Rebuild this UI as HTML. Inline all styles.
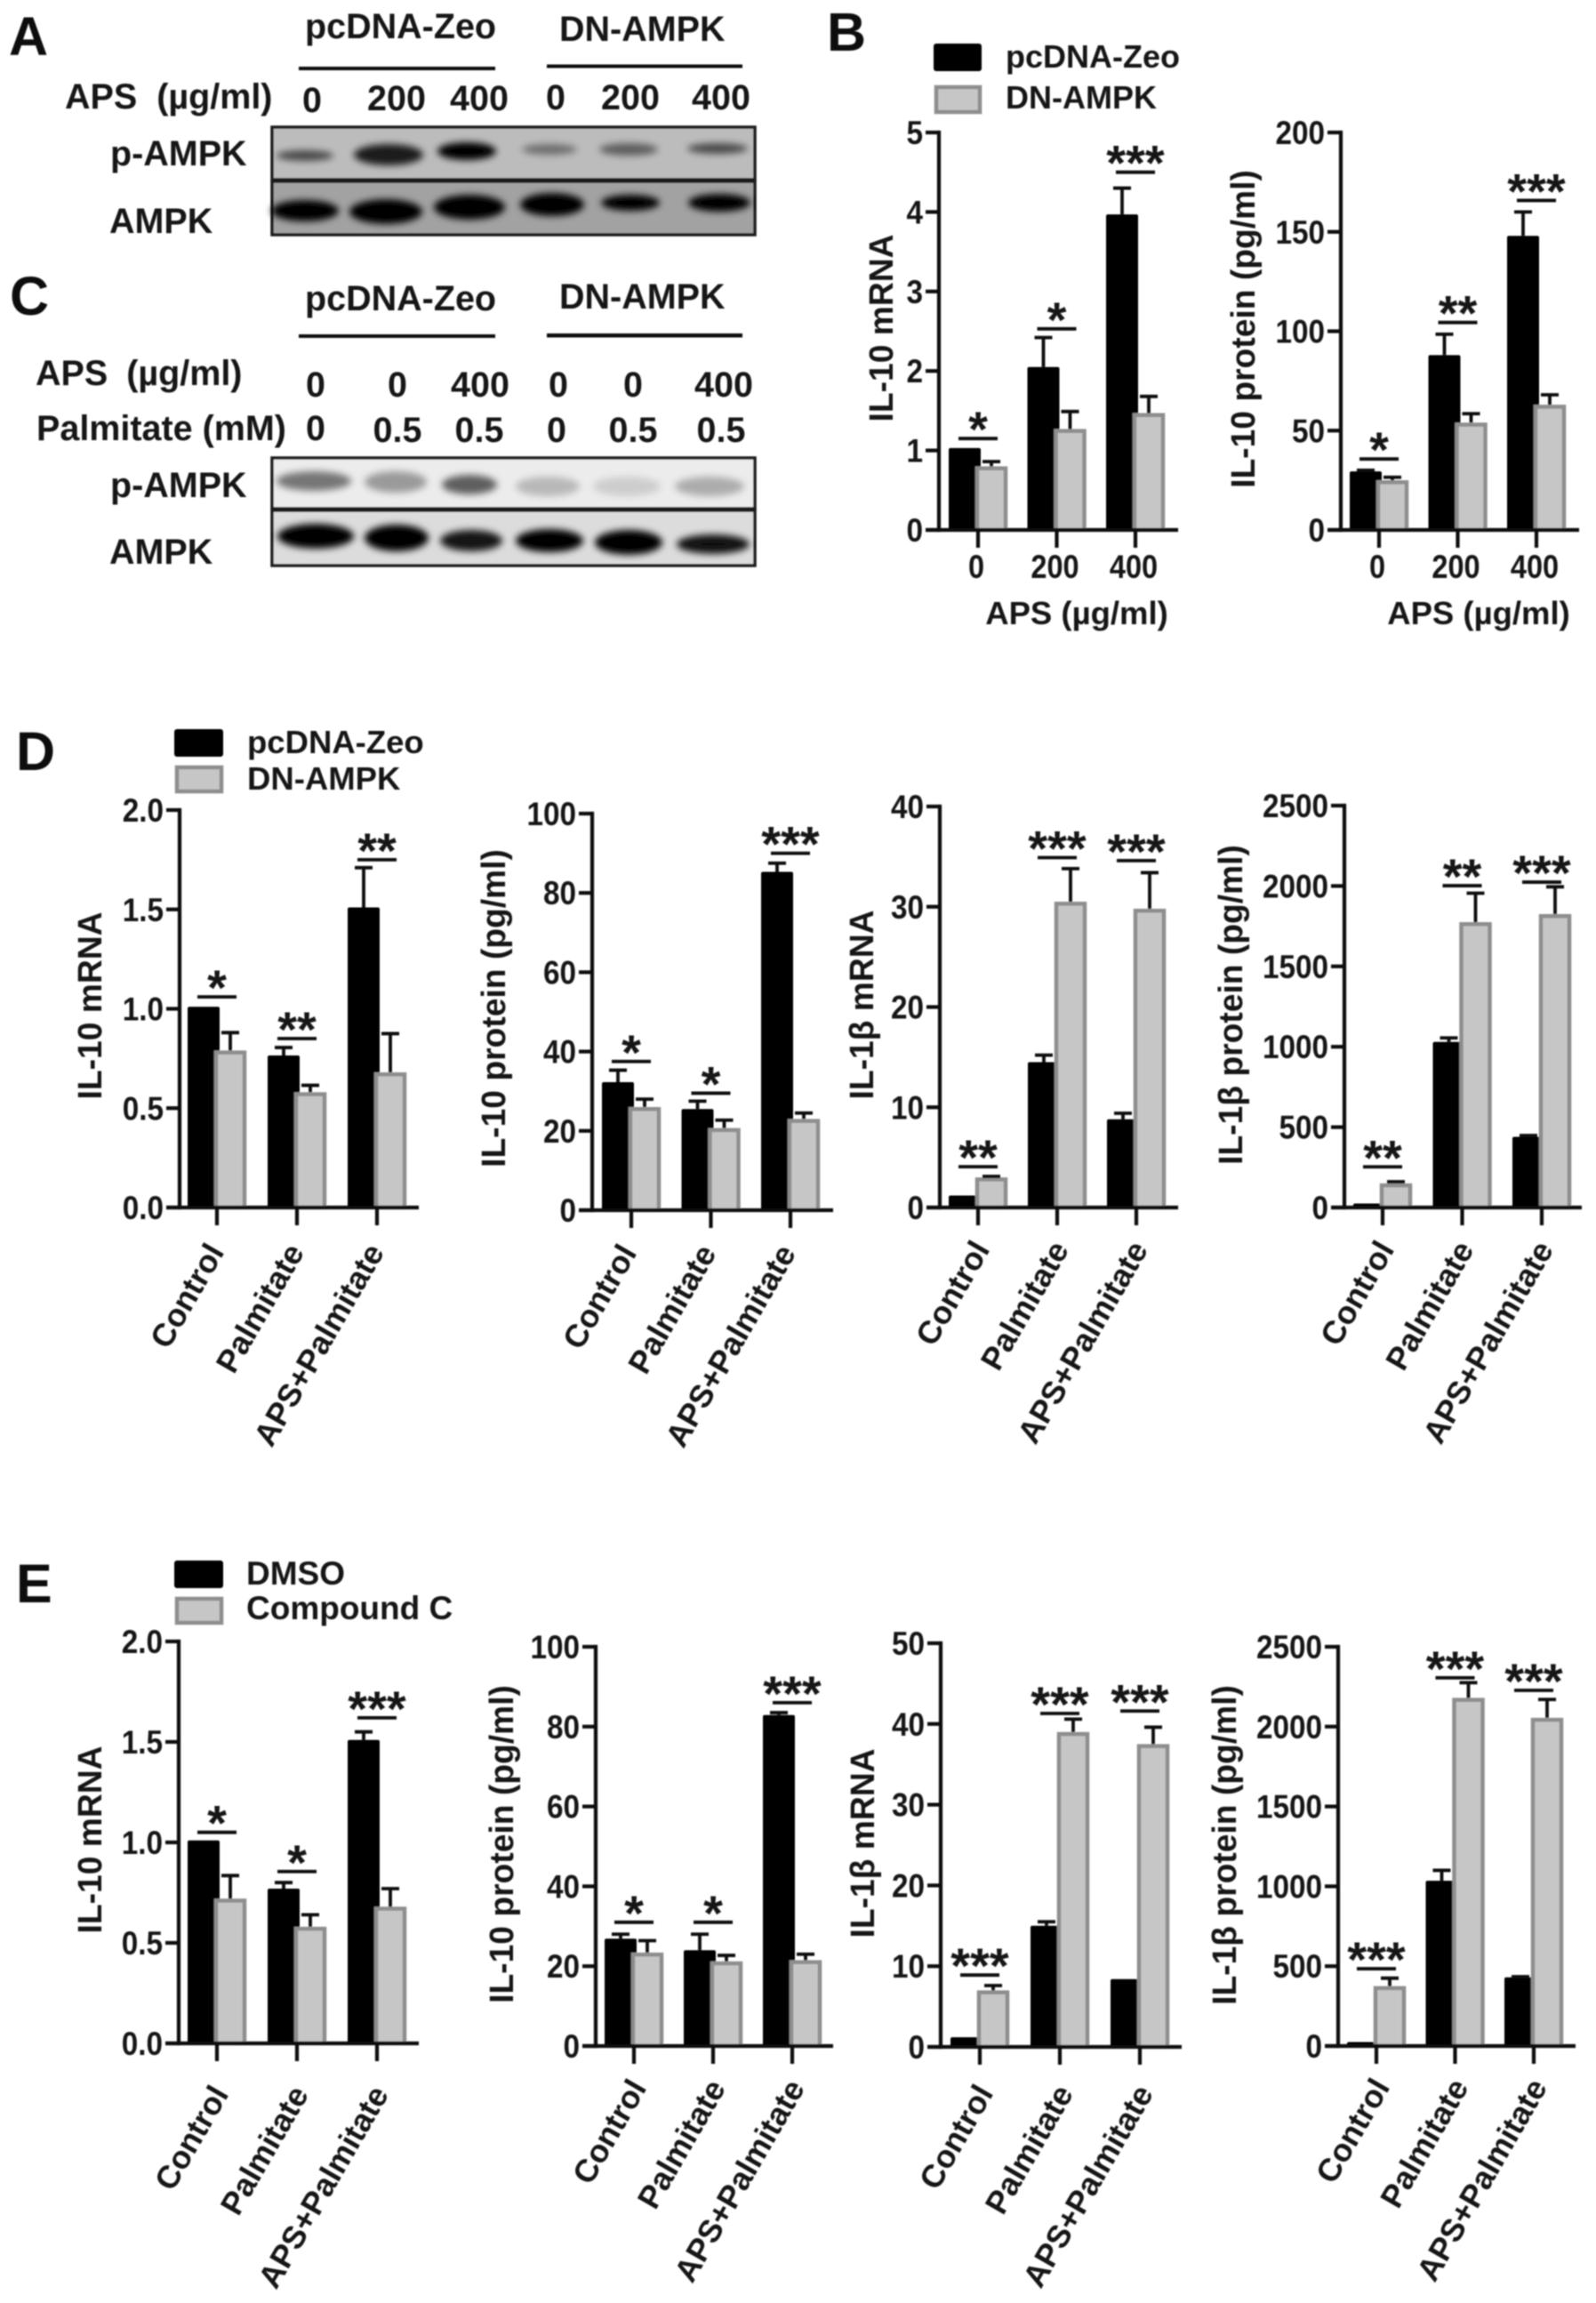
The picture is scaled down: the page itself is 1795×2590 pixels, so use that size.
<!DOCTYPE html>
<html lang="en">
<head>
<meta charset="utf-8">
<title>AMPK western blots and IL-10 / IL-1β bar charts</title>
<style>
html,body{margin:0;padding:0;background:#fff;}
svg{display:block;}
text{font-family:"Liberation Sans",sans-serif;font-weight:bold;fill:#151515;}
.bt{font-size:36px;}
.bb{font-size:39.5px;}
.pl{font-size:61px;fill:#0c0c0c;}
</style>
</head>
<body>
<svg id="figure" xmlns="http://www.w3.org/2000/svg" width="1795" height="2590" viewBox="0 0 1795 2590">
<defs>
<filter id="soft" x="-10%" y="-10%" width="120%" height="120%"><feGaussianBlur stdDeviation="0.7"/></filter>
<filter id="band" x="-40%" y="-80%" width="180%" height="260%"><feGaussianBlur stdDeviation="4"/></filter>
</defs>
<g id="root" filter="url(#soft)">
<!-- panel letters -->
<text class="pl" x="10" y="62">A</text>
<text class="pl" x="930" y="57">B</text>
<text class="pl" x="11" y="354">C</text>
<text class="pl" x="18" y="866">D</text>
<text class="pl" x="18" y="1802">E</text>

<!-- panel A -->
<g>
<text class="bb" x="343" y="43">pcDNA-Zeo</text>
<text class="bb" x="629" y="46">DN-AMPK</text>
<rect x="336" y="75" width="221" height="4" fill="#111"/>
<rect x="615" y="72.5" width="220" height="4" fill="#111"/>
<text class="bb" x="73" y="122" word-spacing="11">APS (µg/ml)</text>
<g class="bb" text-anchor="middle">
<text x="351" y="126">0</text>
<text x="446" y="124">200</text>
<text x="539" y="124">400</text>
<text x="625" y="123">0</text>
<text x="709" y="123">200</text>
<text x="811" y="123">400</text>
</g>
<text class="bb" x="124" y="186">p-AMPK</text>
<text class="bb" x="123" y="262">AMPK</text>
<rect x="306" y="143" width="543" height="59" fill="#bcbcbc" stroke="#1a1a1a" stroke-width="3.5"/>
<rect x="306" y="204" width="543" height="60" fill="#a2a2a2" stroke="#1a1a1a" stroke-width="3.5"/>
<g filter="url(#band)" fill="#000">
<ellipse cx="343" cy="175" rx="32" ry="6" opacity=".62"/>
<ellipse cx="437" cy="174" rx="39" ry="12" opacity=".85"/>
<ellipse cx="525" cy="170" rx="33" ry="10" opacity="1"/>
<ellipse cx="618" cy="168" rx="31" ry="6" opacity=".42"/>
<ellipse cx="707" cy="168" rx="33" ry="7" opacity=".5"/>
<ellipse cx="807" cy="167" rx="34" ry="6" opacity=".62"/>
</g>
<g filter="url(#band)" fill="#000">
<ellipse cx="343" cy="237" rx="38" ry="12"/>
<ellipse cx="434" cy="238" rx="41" ry="14"/>
<ellipse cx="528" cy="233" rx="40" ry="14"/>
<ellipse cx="621" cy="230" rx="36" ry="13"/>
<ellipse cx="709" cy="228" rx="33" ry="9"/>
<ellipse cx="809" cy="228" rx="35" ry="10"/>
</g>
</g>

<!-- panel C -->
<g>
<text class="bb" x="343" y="349">pcDNA-Zeo</text>
<text class="bb" x="629" y="347">DN-AMPK</text>
<rect x="336" y="376" width="221" height="4" fill="#111"/>
<rect x="615" y="375" width="220" height="4.5" fill="#111"/>
<text class="bb" x="40" y="433" word-spacing="10">APS (µg/ml)</text>
<g class="bb" text-anchor="middle">
<text x="355" y="446">0</text>
<text x="447" y="446">0</text>
<text x="540" y="446">400</text>
<text x="628" y="446">0</text>
<text x="712" y="446">0</text>
<text x="814" y="446">400</text>
</g>
<text class="bb" x="41" y="495">Palmitate (mM)</text>
<g class="bb" text-anchor="middle">
<text x="355" y="495">0</text>
<text x="447" y="497">0.5</text>
<text x="539" y="497">0.5</text>
<text x="626" y="497">0</text>
<text x="712" y="497">0.5</text>
<text x="811" y="497">0.5</text>
</g>
<text class="bb" x="124" y="559">p-AMPK</text>
<text class="bb" x="123" y="634">AMPK</text>
<rect x="306" y="515" width="543" height="57" fill="#ececec" stroke="#1a1a1a" stroke-width="3.5"/>
<rect x="306" y="574" width="543" height="62" fill="#dcdcdc" stroke="#1a1a1a" stroke-width="3.5"/>
<g filter="url(#band)" fill="#000">
<ellipse cx="353" cy="541" rx="42" ry="11" opacity=".5"/>
<ellipse cx="445" cy="542" rx="35" ry="12" opacity=".35"/>
<ellipse cx="528" cy="545" rx="31" ry="11" opacity=".6"/>
<ellipse cx="616" cy="547" rx="36" ry="11" opacity=".22"/>
<ellipse cx="705" cy="547" rx="38" ry="11" opacity=".13"/>
<ellipse cx="798" cy="547" rx="39" ry="11" opacity=".27"/>
</g>
<g filter="url(#band)" fill="#000">
<ellipse cx="355" cy="603" rx="43" ry="14"/>
<ellipse cx="446" cy="605" rx="36" ry="15"/>
<ellipse cx="530" cy="608" rx="35" ry="12" opacity=".9"/>
<ellipse cx="618" cy="608" rx="38" ry="13"/>
<ellipse cx="707" cy="610" rx="38" ry="14"/>
<ellipse cx="802" cy="612" rx="41" ry="11" opacity=".92"/>
</g>
</g>

<!-- legends -->
<g>
<rect x="1050" y="49" width="54" height="31" rx="3" fill="#050505"/>
<rect x="1053" y="98" width="49" height="28" fill="#c6c6c6" stroke="#8e8e8e" stroke-width="4.5"/>
<text class="bt" x="1131" y="76">pcDNA-Zeo</text>
<text class="bt" x="1131" y="122">DN-AMPK</text>
</g>
<g>
<rect x="196" y="820" width="55" height="31" rx="3" fill="#050505"/>
<rect x="199" y="863" width="50" height="27" fill="#c6c6c6" stroke="#8e8e8e" stroke-width="4.5"/>
<text class="bt" x="278" y="847" font-size="36.5" style="font-size:36.5px">pcDNA-Zeo</text>
<text class="bt" x="278" y="888" style="font-size:36.5px">DN-AMPK</text>
</g>
<g>
<rect x="196" y="1755" width="55" height="31" rx="3" fill="#050505"/>
<rect x="199" y="1798" width="50" height="27" fill="#c6c6c6" stroke="#8e8e8e" stroke-width="4.5"/>
<text class="bt" x="277" y="1782" style="font-size:37px">DMSO</text>
<text class="bt" x="277" y="1821" style="font-size:37px">Compound C</text>
</g>
<g id="charts"></g>
</g>
</svg>
<script>
// Shared categories
const doseCategories = ['0', '200', '400'];
const treatmentCategories = ['Control', 'Palmitate', 'APS+Palmitate'];

// Panel B, IL-10 mRNA
const b1Ticks = ['0', '1', '2', '3', '4', '5'];
const b1Black = [1.03, 2.05, 3.97];
const b1BlackErr = [0, 0.37, 0.33];
const b1Gray = [0.8, 1.27, 1.47];
const b1GrayErr = [0.06, 0.22, 0.21];
const b1SigAt = [1.15, 2.53, 4.5];
const b1Sig = ['*', '*', '***'];

// Panel B, IL-10 protein
const b2Ticks = ['0', '50', '100', '150', '200'];
const b2Black = [29.5, 88, 148];
const b2BlackErr = [0.5, 10.5, 12];
const b2Gray = [25, 54, 63];
const b2GrayErr = [1.5, 4.5, 5];
const b2SigAt = [35.7, 104.4, 165.8];
const b2Sig = ['*', '**', '***'];

// Panel D
const d1Ticks = ['0.0', '0.5', '1.0', '1.5', '2.0'];
const d1Black = [1.01, 0.765, 1.51];
const d1BlackErr = [0, 0.04, 0.2];
const d1Gray = [0.79, 0.58, 0.68];
const d1GrayErr = [0.09, 0.035, 0.195];
const d1SigAt = [1.06, 0.85, 1.75];
const d1Sig = ['*', '**', '**'];

const d2Ticks = ['0', '20', '40', '60', '80', '100'];
const d2Black = [32.3, 25.5, 85.3];
const d2BlackErr = [3, 2, 2.2];
const d2Gray = [26, 20.7, 23];
const d2GrayErr = [2, 2, 1.5];
const d2SigAt = [37.5, 29.5, 90];
const d2Sig = ['*', '*', '***'];

const d3Ticks = ['0', '10', '20', '30', '40'];
const d3Black = [1.2, 14.5, 8.8];
const d3BlackErr = [0, 0.7, 0.6];
const d3Gray = [3, 30.5, 29.8];
const d3GrayErr = [0.1, 3.3, 3.6];
const d3SigAt = [4.07, 34.9, 34.6];
const d3Sig = ['**', '***', '***'];

const d4Ticks = ['0', '500', '1000', '1500', '2000', '2500'];
const d4Black = [25, 1030, 440];
const d4BlackErr = [0, 25, 8];
const d4Gray = [150, 1775, 1825];
const d4GrayErr = [10, 180, 170];
const d4SigAt = [253, 2002, 2024];
const d4Sig = ['**', '**', '***'];

// Panel E
const e1Ticks = ['0.0', '0.5', '1.0', '1.5', '2.0'];
const e1Black = [1.01, 0.77, 1.51];
const e1BlackErr = [0, 0.03, 0.04];
const e1Gray = [0.72, 0.58, 0.68];
const e1GrayErr = [0.115, 0.06, 0.09];
const e1SigAt = [1.05, 0.855, 1.62];
const e1Sig = ['*', '*', '***'];

const e2Ticks = ['0', '20', '40', '60', '80', '100'];
const e2Black = [26.9, 24, 82.9];
const e2BlackErr = [1.1, 4, 0.6];
const e2Gray = [23.4, 21.2, 21.5];
const e2GrayErr = [3, 1.5, 1.5];
const e2SigAt = [31, 31, 86];
const e2Sig = ['*', '*', '***'];

const e3Ticks = ['0', '10', '20', '30', '40', '50'];
const e3Black = [1.2, 15, 8.4];
const e3BlackErr = [0, 0.5, 0];
const e3Gray = [7, 39, 37.5];
const e3GrayErr = [0.6, 1.6, 2.1];
const e3SigAt = [8.9, 41.3, 41.6];
const e3Sig = ['***', '***', '***'];

const e4Ticks = ['0', '500', '1000', '1500', '2000', '2500'];
const e4Black = [25, 1035, 430];
const e4BlackErr = [0, 65, 4];
const e4Gray = [375, 2180, 2055];
const e4GrayErr = [50, 95, 115];
const e4SigAt = [484, 2306, 2227];
const e4Sig = ['***', '***', '***'];

const NS = 'http://www.w3.org/2000/svg';
const chartsRoot = document.getElementById('charts');

function make(tag, parent, name, attrs, txt) {
  const el = document.createElementNS(NS, tag);
  
  
  for (const k in attrs) el.setAttribute(k, attrs[k]);
  if (txt !== undefined) el.textContent = txt;
  parent.appendChild(el);
  return el;
}

function drawChart(g, d) {
  const root = make('g', chartsRoot, g.name, {});
  const yMax = parseFloat(d.ticks[d.ticks.length - 1]);
  const yScale = v => g.y0 - v / yMax * (g.y0 - g.yTop);
  const xScale = i => g.xFirst + i * g.xStep;
  const AXW = 4.2;

  // bars: black first, gray on top
  d.black.forEach((v, i) => {
    const cx = xScale(i);
    const top = yScale(v);
    make('rect', root, 'bar-black-' + i, {x: cx - 33, y: top, width: 36, height: g.y0 - top, rx: 2, fill: '#040404'});
    const errTop = yScale(v + d.blackErr[i]);
    if (d.blackErr[i] > 0) {
      make('path', root, 'error-bar-black-' + i, {d: 'M' + (cx - 15) + ' ' + top + 'V' + errTop + 'M' + (cx - 25) + ' ' + errTop + 'H' + (cx - 5), stroke: '#0a0a0a', 'stroke-width': 3.8, fill: 'none'});
    }
  });
  d.gray.forEach((v, i) => {
    const cx = xScale(i);
    const top = yScale(v);
    make('rect', root, 'bar-gray-' + i, {x: cx - 1, y: top + 2.2, width: 32, height: g.y0 - top - 2.2, fill: '#c6c6c6', stroke: '#8e8e8e', 'stroke-width': 4.5});
    const errTop = yScale(v + d.grayErr[i]);
    make('path', root, 'error-bar-gray-' + i, {d: 'M' + (cx + 15) + ' ' + top + 'V' + errTop + 'M' + (cx + 5) + ' ' + errTop + 'H' + (cx + 25), stroke: '#0a0a0a', 'stroke-width': 3.8, fill: 'none'});
  });

  // axes
  make('line', root, 'y-axis', {x1: g.axisX, x2: g.axisX, y1: g.yTop - AXW / 2, y2: g.y0 + AXW / 2, stroke: '#0a0a0a', 'stroke-width': AXW});
  make('line', root, 'x-axis', {x1: g.axisX - 15, x2: g.xEnd, y1: g.y0, y2: g.y0, stroke: '#0a0a0a', 'stroke-width': AXW});
  d.ticks.forEach(t => {
    const y = yScale(parseFloat(t));
    make('line', root, 'y-tick', {x1: g.axisX - 15, x2: g.axisX, y1: y, y2: y, stroke: '#0a0a0a', 'stroke-width': AXW});
    make('text', root, 'y-tick-label', {transform: 'translate(' + (g.axisX - 18) + ' ' + (y + 13) + ') scale(.9 1)', 'text-anchor': 'end', 'font-size': 37}, t);
  });
  d.categories.forEach((c, i) => {
    const cx = xScale(i);
    make('line', root, 'x-tick', {x1: cx, x2: cx, y1: g.y0, y2: g.y0 + 20, stroke: '#0a0a0a', 'stroke-width': AXW});
    if (g.rotated) {
      make('text', root, 'x-tick-label', {transform: 'translate(' + (cx + g.labelDx) + ' ' + (g.y0 + g.labelDy) + ') rotate(-60)', 'text-anchor': 'end', 'font-size': 36}, c);
    } else {
      make('text', root, 'x-tick-label', {transform: 'translate(' + (cx - 2) + ' ' + (g.y0 + 54) + ') scale(.88 1)', 'text-anchor': 'middle', 'font-size': 37}, c);
    }
  });

  // significance
  d.sig.forEach((s, i) => {
    const cx = xScale(i);
    const y = yScale(d.sigAt[i]);
    make('line', root, 'significance-line-' + i, {x1: cx - 22, x2: cx + 22, y1: y, y2: y, stroke: '#0a0a0a', 'stroke-width': 3.8});
    make('text', root, 'significance-stars-' + i, {x: cx, y: y + 9, 'text-anchor': 'middle', 'font-size': 56}, s);
  });

  // titles
  make('text', root, 'y-axis-title', {transform: 'translate(' + g.titleX + ' ' + g.titleY + ') rotate(-90) scale(.98 1)', 'text-anchor': 'middle', 'font-size': 38}, g.title);
  if (g.xTitle) {
    make('text', root, 'x-axis-title', {transform: 'translate(' + g.xTitleX + ' ' + (g.y0 + 106) + ')', 'text-anchor': 'middle', 'font-size': 36.5}, g.xTitle);
  }
}

drawChart(
  {name: 'chart-b-il10-mrna', axisX: 1056, yTop: 149, y0: 596, xFirst: 1100, xStep: 88.5, xEnd: 1325, title: 'IL-10 mRNA', titleX: 1004, titleY: 369, xTitle: 'APS (µg/ml)', xTitleX: 1211},
  {categories: doseCategories, ticks: b1Ticks, black: b1Black, blackErr: b1BlackErr, gray: b1Gray, grayErr: b1GrayErr, sigAt: b1SigAt, sig: b1Sig});
drawChart(
  {name: 'chart-b-il10-protein', axisX: 1508, yTop: 149, y0: 596, xFirst: 1551, xStep: 88.5, xEnd: 1776, title: 'IL-10 protein (pg/ml)', titleX: 1411, titleY: 370, xTitle: 'APS (µg/ml)', xTitleX: 1663},
  {categories: doseCategories, ticks: b2Ticks, black: b2Black, blackErr: b2BlackErr, gray: b2Gray, grayErr: b2GrayErr, sigAt: b2SigAt, sig: b2Sig});

drawChart(
  {name: 'chart-d-il10-mrna', axisX: 202, yTop: 911, y0: 1358, xFirst: 244, xStep: 90, xEnd: 471, rotated: true, labelDx: 9, labelDy: 50, title: 'IL-10 mRNA', titleX: 114, titleY: 1131},
  {categories: treatmentCategories, ticks: d1Ticks, black: d1Black, blackErr: d1BlackErr, gray: d1Gray, grayErr: d1GrayErr, sigAt: d1SigAt, sig: d1Sig});
drawChart(
  {name: 'chart-d-il10-protein', axisX: 666, yTop: 915, y0: 1361, xFirst: 710, xStep: 89.5, xEnd: 937, rotated: true, labelDx: 7, labelDy: 48, title: 'IL-10 protein (pg/ml)', titleX: 568, titleY: 1134},
  {categories: treatmentCategories, ticks: d2Ticks, black: d2Black, blackErr: d2BlackErr, gray: d2Gray, grayErr: d2GrayErr, sigAt: d2SigAt, sig: d2Sig});
drawChart(
  {name: 'chart-d-il1b-mrna', axisX: 1057, yTop: 907, y0: 1358, xFirst: 1100, xStep: 89, xEnd: 1325, rotated: true, labelDx: 14, labelDy: 47, title: 'IL-1β mRNA', titleX: 982, titleY: 1130},
  {categories: treatmentCategories, ticks: d3Ticks, black: d3Black, blackErr: d3BlackErr, gray: d3Gray, grayErr: d3GrayErr, sigAt: d3SigAt, sig: d3Sig});
drawChart(
  {name: 'chart-d-il1b-protein', axisX: 1512, yTop: 906, y0: 1358, xFirst: 1555, xStep: 89.5, xEnd: 1779, rotated: true, labelDx: 14, labelDy: 47, title: 'IL-1β protein (pg/ml)', titleX: 1397, titleY: 1130},
  {categories: treatmentCategories, ticks: d4Ticks, black: d4Black, blackErr: d4BlackErr, gray: d4Gray, grayErr: d4GrayErr, sigAt: d4SigAt, sig: d4Sig});

drawChart(
  {name: 'chart-e-il10-mrna', axisX: 201, yTop: 1846, y0: 2298, xFirst: 244, xStep: 90, xEnd: 471, rotated: true, labelDx: 14, labelDy: 57, title: 'IL-10 mRNA', titleX: 114, titleY: 2069},
  {categories: treatmentCategories, ticks: e1Ticks, black: e1Black, blackErr: e1BlackErr, gray: e1Gray, grayErr: e1GrayErr, sigAt: e1SigAt, sig: e1Sig});
drawChart(
  {name: 'chart-e-il10-protein', axisX: 670, yTop: 1852, y0: 2301, xFirst: 713, xStep: 89, xEnd: 937, rotated: true, labelDx: 15, labelDy: 47, title: 'IL-10 protein (pg/ml)', titleX: 577, titleY: 2074},
  {categories: treatmentCategories, ticks: e2Ticks, black: e2Black, blackErr: e2BlackErr, gray: e2Gray, grayErr: e2GrayErr, sigAt: e2SigAt, sig: e2Sig});
drawChart(
  {name: 'chart-e-il1b-mrna', axisX: 1058, yTop: 1848, y0: 2302, xFirst: 1102, xStep: 90, xEnd: 1329, rotated: true, labelDx: 16, labelDy: 52, title: 'IL-1β mRNA', titleX: 983, titleY: 2073},
  {categories: treatmentCategories, ticks: e3Ticks, black: e3Black, blackErr: e3BlackErr, gray: e3Gray, grayErr: e3GrayErr, sigAt: e3SigAt, sig: e3Sig});
drawChart(
  {name: 'chart-e-il1b-protein', axisX: 1505, yTop: 1852, y0: 2301, xFirst: 1548, xStep: 88.5, xEnd: 1772, rotated: true, labelDx: 16, labelDy: 46, title: 'IL-1β protein (pg/ml)', titleX: 1390, titleY: 2075},
  {categories: treatmentCategories, ticks: e4Ticks, black: e4Black, blackErr: e4BlackErr, gray: e4Gray, grayErr: e4GrayErr, sigAt: e4SigAt, sig: e4Sig});
</script>
</body>
</html>
